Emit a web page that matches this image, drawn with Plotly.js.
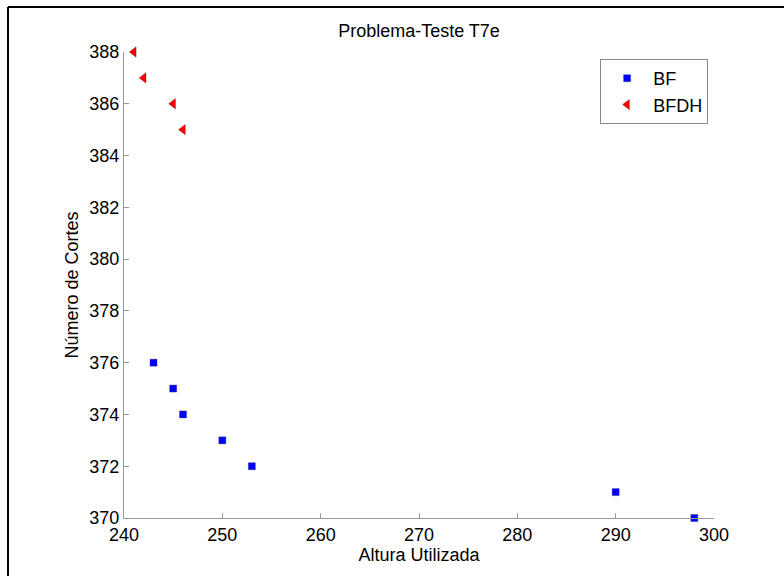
<!DOCTYPE html>
<html>
<head>
<meta charset="utf-8">
<script src="https://cdn.plot.ly/plotly-3.0.1.min.js"></script>
<style>html,body{margin:0;padding:0;background:#fff;} #chart{width:784px;height:576px;}</style>
</head>
<body>
<div id="chart"></div>
<script>
const bfX = [243, 245, 246, 250, 253, 290, 298];
const bfY = [376, 375, 374, 373, 372, 371, 370];
const bfdhX = [241, 242, 245, 246];
const bfdhY = [388, 387, 386, 385];
const xTicks = [240, 250, 260, 270, 280, 290, 300];
const yTicks = [370, 372, 374, 376, 378, 380, 382, 384, 386, 388];

const FONT = 'Liberation Sans, Arial, sans-serif';

const traces = [
  {x: bfX, y: bfY, name: 'BF', type: 'scatter', mode: 'markers', cliponaxis: false,
   marker: {symbol: 'square', size: 7, color: '#0000ff', line: {color: 'rgba(40,40,80,0.6)', width: 0.6}}},
  {x: bfdhX, y: bfdhY, name: 'BFDH', type: 'scatter', mode: 'markers', cliponaxis: false,
   marker: {symbol: 'triangle-left', size: 9, color: '#ff0000', line: {color: 'rgba(90,20,20,0.6)', width: 0.6}}}
];

const axisCommon = {
  showgrid: false, zeroline: false, showline: true, linecolor: '#999', linewidth: 1,
  ticks: 'inside', ticklen: 5, tickcolor: '#999', tickwidth: 1, mirror: false,
  tickfont: {family: FONT, size: 18, color: '#000'}
};

const layout = {
  width: 784, height: 576,
  margin: {l: 124, r: 70, t: 52, b: 58},
  paper_bgcolor: '#fff', plot_bgcolor: '#fff',
  font: {family: FONT, size: 18, color: '#000'},
  title: {text: 'Problema-Teste T7e', font: {family: FONT, size: 18, color: '#000'},
          x: 0.5, xref: 'paper', y: 1 - 31/576, yref: 'container', yanchor: 'middle'},
  xaxis: Object.assign({}, axisCommon, {range: [240, 300], tickvals: xTicks, ticktext: xTicks.map(String),
    title: {text: 'Altura Utilizada', font: {family: FONT, size: 18, color: '#000'}, standoff: 2}}),
  yaxis: Object.assign({}, axisCommon, {range: [370, 388], tickvals: yTicks, ticktext: yTicks.map(String),
    title: {text: 'Número de Cortes', font: {family: FONT, size: 18, color: '#000'}, standoff: 6}}),
  showlegend: true,
  legend: {x: 0.807, y: 0.985, xanchor: 'left', yanchor: 'top', bgcolor: '#fff', itemwidth: 42,
           bordercolor: '#888', borderwidth: 1, font: {family: FONT, size: 18, color: '#000'}},
  shapes: [
    {type: 'line', xref: 'paper', yref: 'paper', x0: -0.1966, x1: 1.2, y0: 1.0966, y1: 1.0966, line: {color: '#000', width: 2}},
    {type: 'line', xref: 'paper', yref: 'paper', x0: -0.1966, x1: -0.1966, y0: 1.0966, y1: -0.2, line: {color: '#000', width: 2}}
  ]
};

Plotly.newPlot('chart', traces, layout, {displayModeBar: false, staticPlot: true});
</script>
</body>
</html>
